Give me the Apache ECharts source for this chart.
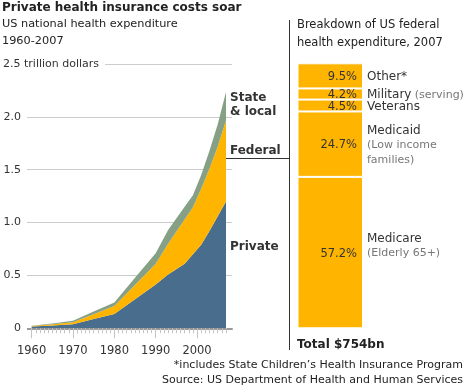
<!DOCTYPE html>
<html><head><meta charset="utf-8">
<script src="https://cdn.jsdelivr.net/npm/echarts@6/dist/echarts.min.js"></script>
<style>html,body{margin:0;padding:0;background:#fff}#c{width:466px;height:385px}</style>
</head><body><div id="c"></div>
<script>
// ---- data (trillion dollars) ----
const years = [1960,1965,1970,1975,1980,1985,1990,1993,1997,1999,2001,2003,2005,2007];
const privateSpend = [0.018,0.027,0.038,0.087,0.135,0.275,0.415,0.51,0.61,0.70,0.79,0.92,1.06,1.20];
const federalSpend = [0.004,0.011,0.019,0.047,0.075,0.135,0.195,0.29,0.42,0.445,0.53,0.59,0.66,0.765];
const stateLocalSpend = [0.003,0.007,0.015,0.024,0.033,0.067,0.10,0.13,0.12,0.113,0.13,0.17,0.21,0.27];
const yTickValues = [0,0.5,1.0,1.5,2.0,2.5];
const xLabelYears = [1960,1970,1980,1990,2000];
const fedCategories = ['Medicare','Medicaid','Veterans','Military','Other*'];
const fedNotes = ['(Elderly 65+)','(Low income|families)','','(serving)',''];
const fedShares = [57.2,24.7,4.5,4.2,9.5];

const tickYears = [];
for (let y = 1960; y <= 2007; y++) tickYears.push(y);

const FONT = '"DejaVu Sans", Verdana, sans-serif';
const C_BLUE = '#486d8d', C_YEL = '#ffb400', C_GRN = '#86a086';

// value first so that ECharts stacks the value dimension; encode maps year to x
function pairs(vals){ return years.map((y,i)=>[vals[i], y]); }

function nameLabel(i){
  const n = fedCategories[i], note = fedNotes[i];
  if (i === 0) return '{n|' + n + '}\n{s|' + note + '}\n{n| }';
  if (i === 1) { const parts = note.split('|'); return '{n|' + n + '}\n{s|' + parts[0] + '}\n{s|' + parts[1] + '}'; }
  if (note) return '{n|' + n + '} {s|' + note + '}';
  return '{n|' + n + '}';
}

const chart = echarts.init(document.getElementById('c'), null, {renderer:'canvas'});

const areaSeries = [
  {name:'Private', data: privateSpend, color: C_BLUE},
  {name:'Federal', data: federalSpend, color: C_YEL},
  {name:'State & local', data: stateLocalSpend, color: C_GRN}
].map(s => ({
  type:'line', name:s.name, stack:'nhe', xAxisIndex:0, yAxisIndex:0,
  data: pairs(s.data), encode:{x:1, y:0}, symbol:'none', smooth:false,
  lineStyle:{width:0}, areaStyle:{color:s.color, opacity:1}, itemStyle:{color:s.color},
  silent:true
}));

const barSeries = fedCategories.map((c,i)=>({
  type:'bar', name:c, stack:'fed', xAxisIndex:2, yAxisIndex:1,
  data:[fedShares[i]], barWidth:'100%',
  itemStyle:{color:C_YEL, borderColor:'#fff', borderWidth:1},
  label:{show:true, position:'insideRight', distance:6, offset:[0,1], formatter: p => p.value.toFixed(1)+'%',
         fontFamily:FONT, fontSize:11.5, color:'#333'},
  silent:true
}));
const nameSeries = fedCategories.map((c,i)=>({
  type:'bar', name:c+'-label', stack:'fedlbl', xAxisIndex:3, yAxisIndex:1,
  data:[fedShares[i]], barWidth:'100%',
  itemStyle:{color:'rgba(0,0,0,0)'},
  label:{show:true, position:'right', distance:4, offset:[0,1], formatter: () => nameLabel(i),
    rich:{
      n:{fontFamily:FONT, fontSize:12, color:'#333', lineHeight:14.5},
      s:{fontFamily:FONT, fontSize:11, color:'#777', lineHeight:14.5}
    }},
  silent:true
}));

const option = {
  animation:false,
  backgroundColor:'#fff',
  grid:[
    {left:25, top:64, width:207, height:264.3},
    {left:297.5, top:63.3, width:65.5, height:265}
  ],
  xAxis:[
    {type:'value', gridIndex:0, min:1958.4, max:2008.45, position:'bottom',
     axisLine:{show:true, lineStyle:{color:'#9a9a9a', width:2}},
     axisTick:{show:true, customValues:xLabelYears, length:10, lineStyle:{color:'#c4c4c4', width:1}},
     axisLabel:{show:true, customValues:xLabelYears, margin:17, fontFamily:FONT, fontSize:11.5, color:'#333',
                formatter: v => String(v)},
     splitLine:{show:false}},
    {type:'value', gridIndex:0, min:1958.4, max:2008.45, position:'bottom', offset:0,
     axisLine:{show:false},
     axisTick:{show:true, customValues:tickYears, length:5, lineStyle:{color:'#c4c4c4', width:1}},
     axisLabel:{show:false}, splitLine:{show:false}},
    {type:'category', gridIndex:1, data:['2007'], show:false},
    {type:'category', gridIndex:1, data:['2007'], show:false}
  ],
  yAxis:[
    {type:'value', gridIndex:0, min:0, max:2.5, interval:0.5,
     axisLine:{show:false}, axisTick:{show:false},
     splitLine:{show:true, lineStyle:{color:'#cccccc', width:1}},
     axisLabel:{show:true, align:'left', margin:22, fontFamily:FONT, fontSize:11, color:'#333',
       backgroundColor:'#fff', padding:[1,6,1,0],
       formatter: v => {
         if (Math.abs(v-2.5) < 1e-6) return '{m|' + '2.5 trillion dollars' + '}';
         return '{r|' + (v === 0 ? '0' : v.toFixed(1)) + '}';
       },
       rich:{
         m:{fontFamily:FONT, fontSize:11, color:'#333'},
         r:{fontFamily:FONT, fontSize:11, color:'#333', width:18, align:'right'}
       }}},
    {type:'value', gridIndex:1, min:0, max:100.1, show:false}
  ],
  series: areaSeries.concat(barSeries, nameSeries),
  graphic:[
    {type:'text', x:2, y:7.5, style:{text:'Private health insurance costs soar', font:'bold 12px '+FONT, fill:'#222', verticalAlign:'middle'}},
    {type:'text', x:2, y:24, style:{text:'US national health expenditure', font:'11.3px '+FONT, fill:'#222', verticalAlign:'middle'}},
    {type:'text', x:2, y:41, style:{text:'1960-2007', font:'11.3px '+FONT, fill:'#222', verticalAlign:'middle'}},
    {type:'text', x:297, y:25, style:{text:'Breakdown of US federal', font:'11.5px '+FONT, fill:'#222', verticalAlign:'middle'}},
    {type:'text', x:297, y:43, style:{text:'health expenditure, 2007', font:'11.5px '+FONT, fill:'#222', verticalAlign:'middle'}},
    {type:'text', x:297, y:345, style:{text:'Total $754bn', font:'bold 12px '+FONT, fill:'#222', verticalAlign:'middle'}},
    {type:'text', x:463, y:365, style:{text:'*includes State Children\u2019s Health Insurance Program', font:'11px '+FONT, fill:'#222', align:'right', verticalAlign:'middle'}},
    {type:'text', x:463, y:380, style:{text:'Source: US Department of Health and Human Services', font:'11px '+FONT, fill:'#222', align:'right', verticalAlign:'middle'}},
    {type:'text', x:230, y:98, style:{text:'State', font:'bold 12px '+FONT, fill:'#333', verticalAlign:'middle'}},
    {type:'text', x:230, y:112, style:{text:'& local', font:'bold 12px '+FONT, fill:'#333', verticalAlign:'middle'}},
    {type:'text', x:230, y:151, style:{text:'Federal', font:'bold 12px '+FONT, fill:'#333', verticalAlign:'middle'}},
    {type:'text', x:230, y:247, style:{text:'Private', font:'bold 12px '+FONT, fill:'#333', verticalAlign:'middle'}},
    {type:'line', shape:{x1:289.5, y1:20, x2:289.5, y2:350}, style:{stroke:'#333', lineWidth:1}},
    {type:'line', shape:{x1:226, y1:158.5, x2:289.5, y2:158.5}, style:{stroke:'#333', lineWidth:1}}
  ]
};
chart.setOption(option);
</script></body></html>
